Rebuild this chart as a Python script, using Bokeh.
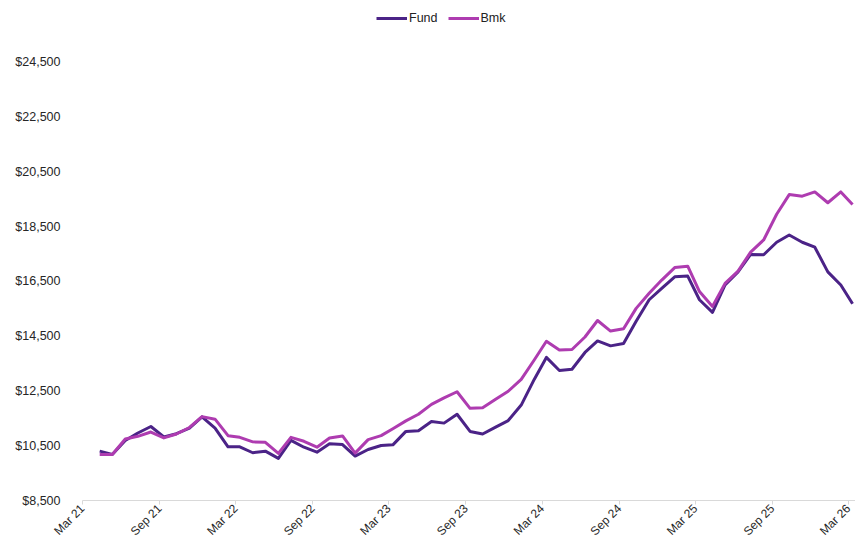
import pandas as pd
from math import pi
from datetime import datetime
from bokeh.plotting import figure
from bokeh.models import (Range1d, FixedTicker, Legend, ColumnDataSource,
                          NumeralTickFormatter)
from bokeh.embed import file_html
from bokeh.resources import INLINE

# ---- data (monthly growth of $10,000) ----
months = [str(m) for m in pd.period_range("2021-04", "2026-03", freq="M")]

fund = [10302, 10183, 10688, 10965, 11203, 10821, 10940, 11145, 11553, 11145,
        10461, 10461, 10244, 10302, 10039, 10698, 10446, 10266, 10569, 10543,
        10122, 10363, 10507, 10533, 11023, 11048, 11383, 11326, 11650, 11023,
        10929, 11181, 11419, 11985, 12922, 13726, 13246, 13293, 13906, 14328,
        14147, 14230, 15048, 15831, 16249, 16670, 16696, 15831, 15373, 16371,
        16850, 17488, 17474, 17932, 18195, 17932, 17751, 16850, 16371, 15686]

bmk = [10183, 10183, 10749, 10843, 11001, 10785, 10929, 11167, 11563, 11470,
       10868, 10807, 10641, 10626, 10219, 10807, 10662, 10446, 10785, 10857,
       10230, 10724, 10868, 11120, 11408, 11650, 12010, 12248, 12472, 11866,
       11888, 12201, 12490, 12922, 13632, 14317, 13993, 14014, 14472, 15074,
       14688, 14771, 15517, 16068, 16551, 17005, 17056, 16130, 15589, 16429,
       16876, 17571, 18015, 18952, 19672, 19615, 19770, 19373, 19770, 19312]

tick_labels = ["Mar 21", "Sep 21", "Mar 22", "Sep 22", "Mar 23", "Sep 23",
               "Mar 24", "Sep 24", "Mar 25", "Sep 25", "Mar 26"]
y_ticks = [8500, 10500, 12500, 14500, 16500, 18500, 20500, 22500, 24500]

# points sit inside each month's slot
dates = [pd.Timestamp(m + "-11") for m in months]
src = ColumnDataSource(dict(date=dates, fund=fund, bmk=bmk))

tick_dates = [datetime.strptime(t, "%b %y") for t in tick_labels]
tick_ms = [(d - datetime(1970, 1, 1)).total_seconds() * 1000 for d in tick_dates]

p = figure(width=855, height=546, x_axis_type="datetime",
           output_backend="svg", toolbar_location=None,
           x_range=Range1d(datetime(2021, 3, 1), datetime(2026, 3, 18)),
           y_range=Range1d(8500, 26760),
           min_border_left=82, min_border_right=0, min_border_top=0,
           min_border_bottom=0, background_fill_color="white",
           border_fill_color="white")
p.outline_line_color = None
p.xgrid.visible = False
p.ygrid.visible = False

FUND_C = "#4B2387"
BMK_C = "#AE3CB0"

r_fund = p.line("date", "fund", source=src, line_color=FUND_C, line_width=3,
                line_join="round")
r_bmk = p.line("date", "bmk", source=src, line_color=BMK_C, line_width=3,
               line_join="round")

# y axis
p.yaxis.ticker = FixedTicker(ticks=y_ticks)
p.yaxis.formatter = NumeralTickFormatter(format="$0,0")
p.yaxis.axis_line_color = None
p.yaxis.major_tick_line_color = None
p.yaxis.minor_tick_line_color = None
p.yaxis.major_label_standoff = 16
p.yaxis.major_label_text_font = "Liberation Sans"
p.yaxis.major_label_text_font_size = "12.5px"
p.yaxis.major_label_text_color = "#262626"

# x axis
p.xaxis.axis_label = None
p.xaxis.ticker = FixedTicker(ticks=tick_ms)
p.xaxis.major_label_overrides = {ms: lbl for ms, lbl in zip(tick_ms, tick_labels)}
p.xaxis.axis_line_color = "#d9d9d9"
p.xaxis.major_tick_line_color = "#d9d9d9"
p.xaxis.major_tick_in = 0
p.xaxis.major_tick_out = 4
p.xaxis.minor_tick_line_color = None
p.xaxis.major_label_orientation = pi / 4
p.xaxis.major_label_standoff = 2
p.xaxis.major_label_text_font = "Liberation Sans"
p.xaxis.major_label_text_font_size = "12px"
p.xaxis.major_label_text_color = "#262626"

legend = Legend(items=[("Fund", [r_fund]), ("Bmk", [r_bmk])],
                location=(294, 472), orientation="horizontal",
                border_line_color=None, background_fill_alpha=0,
                label_text_font="Liberation Sans", label_text_font_size="12.5px",
                label_text_color="#222222", glyph_width=31, glyph_height=20,
                label_height=20, label_standoff=2, spacing=10,
                padding=0, margin=0)
p.add_layout(legend)

open("out.html", "w").write(file_html(p, INLINE))
